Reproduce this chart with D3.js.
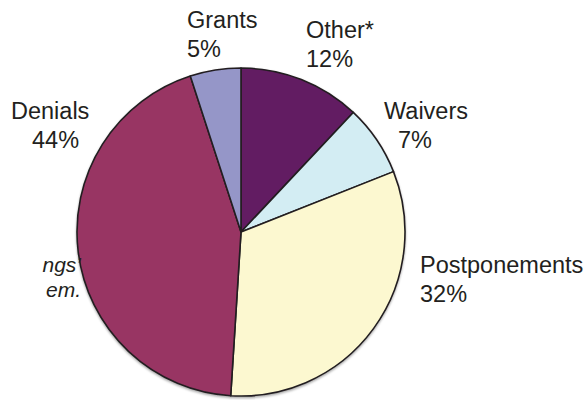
<!DOCTYPE html>
<html>
<head>
<meta charset="utf-8">
<script src="https://cdn.jsdelivr.net/npm/d3@7"></script>
<style>
  html, body { margin: 0; padding: 0; background: #ffffff; }
  text { font-family: "Liberation Sans", Arial, Helvetica, sans-serif; fill: #231f20; }
</style>
</head>
<body>
<div id="chart_here"></div>
<script>
// slice order follows the picture: clockwise from 12 o'clock
const categories = ["Other*", "Waivers", "Postponements", "Denials", "Grants"];
const shares = [12, 7, 32, 44, 5];
const sliceColors = ["#621f62", "#d3edf3", "#fcf8d0", "#983463", "#9596c8"];
// tail of a cropped-off note that sits left of the pie
const noteLines = ["ngs\u2019", "em."];

function drawpie(){
    const width = 587;
    const height = 400;
    const cx = 241, cy = 232, radius = 164;
    const fontSize = 23.5;
    const lineGap = 29;

    // where each label block sits (name line baseline, then value line)
    const labelPlace = {
        "Other*":        {x: 306, y: 38,  dx2: 0},
        "Waivers":       {x: 384, y: 119, dx2: 14},
        "Postponements": {x: 420, y: 273, dx2: 0},
        "Denials":       {x: 11,  y: 119, dx2: 21},
        "Grants":        {x: 187, y: 28,  dx2: 0}
    };

    var svg = d3.select('#chart_here')
        .append('svg')
        .attr("width", width)
        .attr("height", height);

    // faint shadow under the pie, as in the original print
    svg.append("defs")
        .append("filter")
        .attr("id", "shade")
        .attr("x", "-10%").attr("y", "-10%")
        .attr("width", "120%").attr("height", "120%")
        .append("feDropShadow")
        .attr("dx", 0)
        .attr("dy", 1.5)
        .attr("stdDeviation", 1.2)
        .attr("flood-color", "#000")
        .attr("flood-opacity", 0.35);

    const arcs = d3.pie().sort(null).value(d => d)(shares);
    const arc = d3.arc().innerRadius(0).outerRadius(radius);

    const g = svg.append("g")
        .attr("transform", "translate(" + cx + "," + cy + ")")
        .attr("filter", "url(#shade)");

    g.selectAll("path")
        .data(arcs)
        .enter()
        .append("path")
        .attr("d", arc)
        .attr("fill", (d, i) => sliceColors[i])
        .attr("stroke", "#231f20")
        .attr("stroke-width", 1.6)
        .attr("stroke-linejoin", "round");

    const labels = svg.selectAll(".lbl")
        .data(categories)
        .enter()
        .append("text")
        .attr("class", "lbl")
        .style("font-size", fontSize + "px");

    labels.append("tspan")
        .attr("x", d => labelPlace[d].x)
        .attr("y", d => labelPlace[d].y)
        .text(d => d);

    labels.append("tspan")
        .attr("x", d => labelPlace[d].x + labelPlace[d].dx2)
        .attr("y", d => labelPlace[d].y + lineGap)
        .text((d, i) => shares[i] + "%");

    svg.selectAll(".note")
        .data(noteLines)
        .enter()
        .append("text")
        .attr("class", "note")
        .attr("x", 81)
        .attr("y", (d, i) => 272 + i * 25)
        .attr("text-anchor", "end")
        .style("font-size", "21px")
        .style("font-style", "italic")
        .text(d => d);
}

window.addEventListener('load', drawpie);
</script>
</body>
</html>
